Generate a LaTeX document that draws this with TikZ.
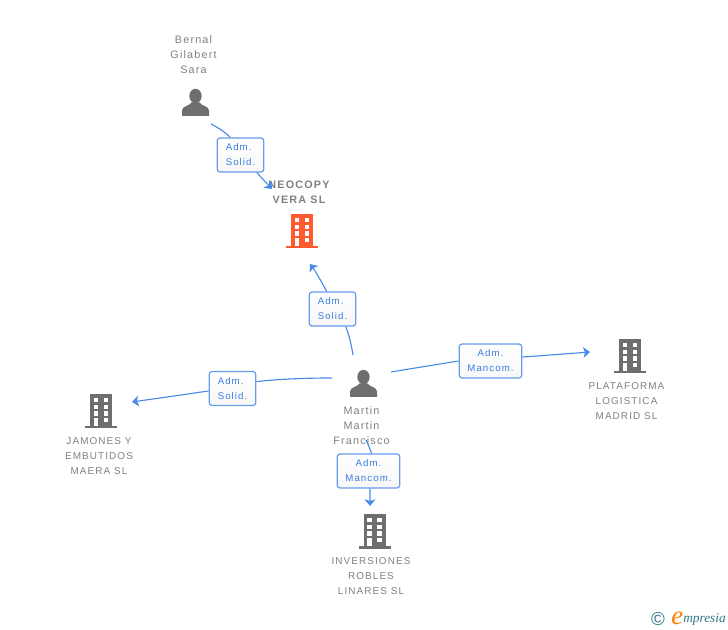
\documentclass[tikz,border=0pt]{standalone}
\usepackage{fontspec}
\setmainfont[LetterSpace=11]{Liberation Sans}
\newfontfamily\logofont[Ligatures=TeX]{Liberation Serif}
\usetikzlibrary{arrows.meta}
\definecolor{iconGrey}{HTML}{6E6E6E}
\definecolor{textGrey}{HTML}{808080}
\definecolor{linkBlue}{HTML}{4A8BE8}
\definecolor{roleBlue}{HTML}{3A7DE2}
\definecolor{mainOrange}{HTML}{FF5A30}
\definecolor{logoTeal}{HTML}{2F7488}
\tikzset{
  nametext/.style = {text = textGrey, align = center, inner sep = 0pt, font = \fontsize{8.1}{11.25}\selectfont},
  firmtext/.style = {nametext, font = \fontsize{7.45}{11.25}\selectfont},
  maintext/.style = {nametext, font = \bfseries\fontsize{8.1}{11.25}\selectfont},
  role/.style = {draw = linkBlue!85, line width = .9pt, rounded corners = 2.2pt, top color = white, bottom color = black!3,
    text = roleBlue, align = center, inner sep = 0pt, minimum height = 25.5pt, minimum width = 47pt,
    font = \fontsize{7.25}{11.25}\selectfont},
  rolesmall/.style = {role, align = left, minimum width = 35pt},
  link/.style = {draw = linkBlue, line width = .85pt},
  arrow/.style = {link, -{Stealth[length = 5pt, width = 8pt, inset = 1.2pt]}},
  pics/building/.style = {code = {
    \fill[#1] (-11,-17) rectangle (11,15);
    \fill[#1] (-16,15) rectangle (16,17.5);
    \foreach \y in {-13,-6.3,0.3,7}{
      \fill[white] (2.5,\y) rectangle (7,\y+4.4);
    }
    \foreach \y in {-13,-6.3,0.3}{
      \fill[white] (-7.5,\y) rectangle (-3,\y+4.4);
    }
    \fill[white] (-7.5,7) rectangle (-3,15);
  }},
  pics/person/.style = {code = {
    \fill[iconGrey] (0,-6.5) ellipse [x radius = 6.2, y radius = 7.2];
    \fill[iconGrey] (-13.5,13.5) -- (-13.5,8) .. controls (-13.5,3.5) and (-5,3) .. (-4,0)
      -- (4,0) .. controls (5,3) and (13.5,3.5) .. (13.5,8) -- (13.5,13.5) -- cycle;
  }}
}
\begin{document}
\begin{tikzpicture}[x=.75pt,y=-.75pt]
  \useasboundingbox (0,0) rectangle (728,630);
  % icons
  \pic at (195.5,102.5) {person};
  \pic at (363.5,383.5) {person};
  \pic at (302,231) {building = mainOrange};
  \pic at (101,411) {building = iconGrey};
  \pic at (630,356) {building = iconGrey};
  \pic at (374.5,531) {building = iconGrey};
  % names
  \node[nametext] (bernal) at (193.5,55) {Bernal\\Gilabert\\Sara};
  \node[maintext] (neocopy) at (299,192.5) {NEOCOPY\\VERA SL};
  \node[nametext] (martin) at (361.5,426) {Martin\\Martin\\Francisco};
  \node[firmtext] (jamones) at (99,456) {JAMONES Y\\EMBUTIDOS\\MAERA SL};
  \node[firmtext] (plataforma) at (626.5,401) {PLATAFORMA\\LOGISTICA\\MADRID SL};
  \node[firmtext] (inversiones) at (371,576) {INVERSIONES\\ROBLES\\LINARES SL};
  % roles
  \node[rolesmall] (roleBernal) at (240.5,155) {Adm.\\Solid.};
  \node[rolesmall] (roleNeocopy) at (332.5,309) {Adm.\\Solid.};
  \node[rolesmall] (roleJamones) at (232.5,388.5) {Adm.\\Solid.};
  \node[role] (rolePlataforma) at (490.5,361) {Adm.\\Mancom.};
  \node[role] (roleInversiones) at (368.5,471) {Adm.\\Mancom.};
  % free ends
  \coordinate (bernalOut) at (211,124);
  \coordinate (bernalIn) at (272,189);
  \coordinate (neocopyOut) at (353,355);
  \coordinate (neocopyIn) at (310,264);
  \coordinate (jamonesOut) at (332,378);
  \coordinate (jamonesIn) at (132,402);
  \coordinate (plataformaOut) at (391,372);
  \coordinate (plataformaIn) at (590,352);
  \coordinate (inversionesOut) at (366,440);
  \coordinate (inversionesIn) at (370,506);
  % connectors
  \draw[link] (bernalOut) .. controls (219,128) and (226,133) .. (roleBernal.120);
  \draw[arrow] (roleBernal) -- (bernalIn);
  \draw[link] (neocopyOut) .. controls (351,343) and (349,335) .. (roleNeocopy.-53);
  \draw[arrow] (roleNeocopy.108) .. controls (321,281) and (316,272) .. (neocopyIn);
  \draw[link] (jamonesOut) .. controls (300,378) and (275,379.5) .. (roleJamones.16);
  \draw[arrow] (roleJamones.186) -- (jamonesIn);
  \draw[link] (plataformaOut) .. controls (415,368) and (440,364) .. (rolePlataforma.west);
  \draw[arrow] (rolePlataforma.7) -- (plataformaIn);
  \draw[link] (inversionesOut) .. controls (368,444) and (370,449) .. (roleInversiones.80);
  \draw[arrow] (roleInversiones.-85) -- (inversionesIn);
  % logo
  \node[text = logoTeal, inner sep = 0pt, font = \fontsize{14}{14}\selectfont] (copyMark) at (658,619) {©};
  \node[text = orange, inner sep = 0pt, anchor = base west, font = \logofont\itshape\fontsize{20}{20}\selectfont] (logoE) at (671,624) {e};
  \node[text = logoTeal, inner sep = 0pt, anchor = base west, font = \logofont\itshape\fontsize{10}{11}\selectfont] (logo) at (683,622.5) {mpresia};
\end{tikzpicture}
\end{document}
